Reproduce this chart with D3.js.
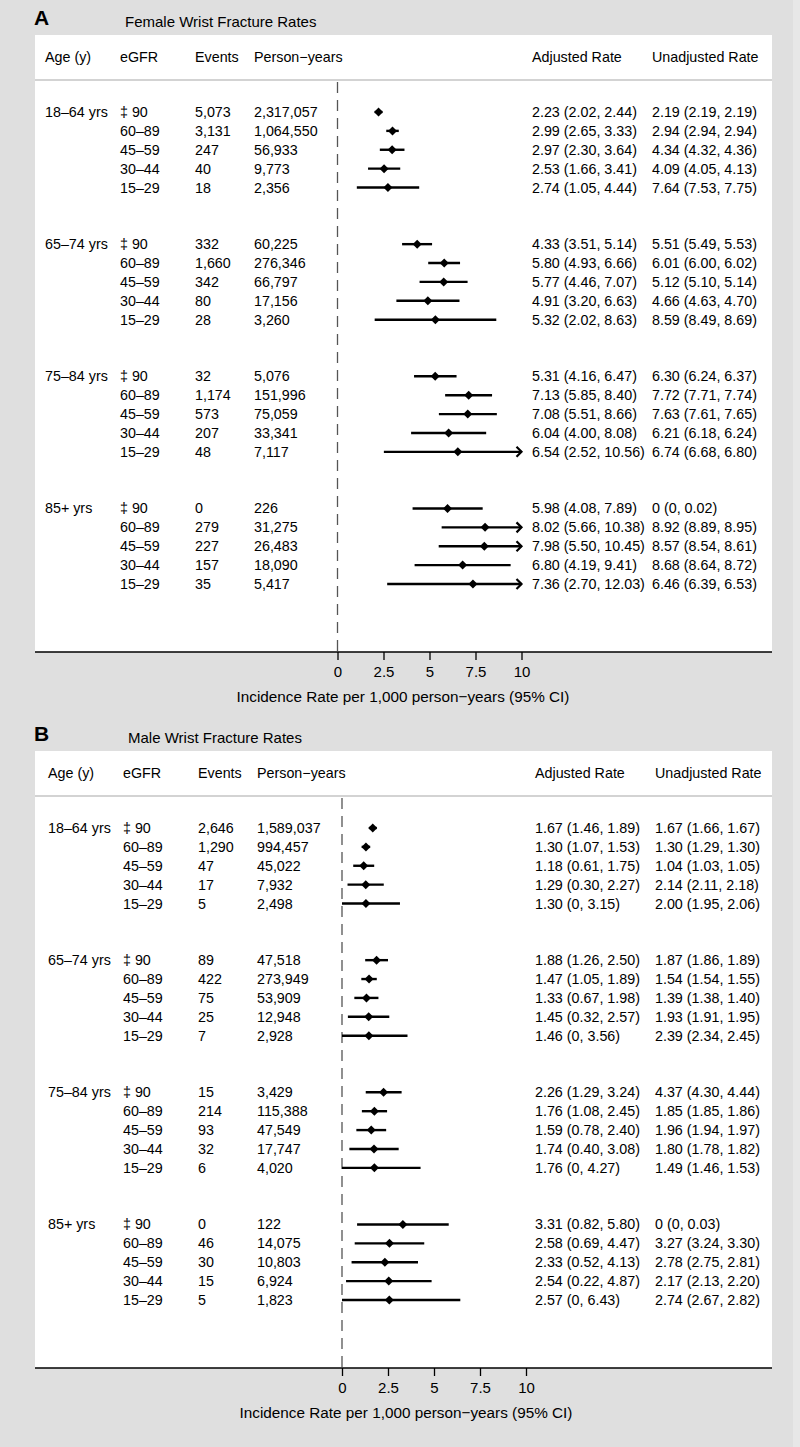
<!DOCTYPE html>
<html>
<head>
<meta charset="utf-8">
<script src="https://cdn.jsdelivr.net/npm/d3@7"></script>
<style>
    body { margin: 0; background: #dfdfdf; }
    svg { display: block; font-family: "Liberation Sans", Arial, sans-serif; }
</style>
</head>
<body>
<svg id="chart" width="800" height="1447"></svg>
<script>
const ageGroups = ["18–64 yrs", "65–74 yrs", "75–84 yrs", "85+ yrs"]
const egfrLevels = ["‡ 90", "60–89", "45–59", "30–44", "15–29"]
const xTicks = [0, 2.5, 5, 7.5, 10]

// female, rows ordered by age group then eGFR
const femaleEvents = [5073, 3131, 247, 40, 18, 332, 1660, 342, 80, 28, 32, 1174, 573, 207, 48, 0, 279, 227, 157, 35]
const femalePersonYears = [2317057, 1064550, 56933, 9773, 2356, 60225, 276346, 66797, 17156, 3260,
    5076, 151996, 75059, 33341, 7117, 226, 31275, 26483, 18090, 5417]
const femaleAdjusted = [
    [2.23, 2.02, 2.44], [2.99, 2.65, 3.33], [2.97, 2.30, 3.64], [2.53, 1.66, 3.41], [2.74, 1.05, 4.44],
    [4.33, 3.51, 5.14], [5.80, 4.93, 6.66], [5.77, 4.46, 7.07], [4.91, 3.20, 6.63], [5.32, 2.02, 8.63],
    [5.31, 4.16, 6.47], [7.13, 5.85, 8.40], [7.08, 5.51, 8.66], [6.04, 4.00, 8.08], [6.54, 2.52, 10.56],
    [5.98, 4.08, 7.89], [8.02, 5.66, 10.38], [7.98, 5.50, 10.45], [6.80, 4.19, 9.41], [7.36, 2.70, 12.03]
]
const femaleUnadjusted = [
    [2.19, 2.19, 2.19], [2.94, 2.94, 2.94], [4.34, 4.32, 4.36], [4.09, 4.05, 4.13], [7.64, 7.53, 7.75],
    [5.51, 5.49, 5.53], [6.01, 6.00, 6.02], [5.12, 5.10, 5.14], [4.66, 4.63, 4.70], [8.59, 8.49, 8.69],
    [6.30, 6.24, 6.37], [7.72, 7.71, 7.74], [7.63, 7.61, 7.65], [6.21, 6.18, 6.24], [6.74, 6.68, 6.80],
    [0, 0, 0.02], [8.92, 8.89, 8.95], [8.57, 8.54, 8.61], [8.68, 8.64, 8.72], [6.46, 6.39, 6.53]
]

// male
const maleEvents = [2646, 1290, 47, 17, 5, 89, 422, 75, 25, 7, 15, 214, 93, 32, 6, 0, 46, 30, 15, 5]
const malePersonYears = [1589037, 994457, 45022, 7932, 2498, 47518, 273949, 53909, 12948, 2928,
    3429, 115388, 47549, 17747, 4020, 122, 14075, 10803, 6924, 1823]
const maleAdjusted = [
    [1.67, 1.46, 1.89], [1.30, 1.07, 1.53], [1.18, 0.61, 1.75], [1.29, 0.30, 2.27], [1.30, 0, 3.15],
    [1.88, 1.26, 2.50], [1.47, 1.05, 1.89], [1.33, 0.67, 1.98], [1.45, 0.32, 2.57], [1.46, 0, 3.56],
    [2.26, 1.29, 3.24], [1.76, 1.08, 2.45], [1.59, 0.78, 2.40], [1.74, 0.40, 3.08], [1.76, 0, 4.27],
    [3.31, 0.82, 5.80], [2.58, 0.69, 4.47], [2.33, 0.52, 4.13], [2.54, 0.22, 4.87], [2.57, 0, 6.43]
]
const maleUnadjusted = [
    [1.67, 1.66, 1.67], [1.30, 1.29, 1.30], [1.04, 1.03, 1.05], [2.14, 2.11, 2.18], [2.00, 1.95, 2.06],
    [1.87, 1.86, 1.89], [1.54, 1.54, 1.55], [1.39, 1.38, 1.40], [1.93, 1.91, 1.95], [2.39, 2.34, 2.45],
    [4.37, 4.30, 4.44], [1.85, 1.85, 1.86], [1.96, 1.94, 1.97], [1.80, 1.78, 1.82], [1.49, 1.46, 1.53],
    [0, 0, 0.03], [3.27, 3.24, 3.30], [2.78, 2.75, 2.81], [2.17, 2.13, 2.20], [2.74, 2.67, 2.82]
]

const svg = d3.select("#chart")
const fmtInt = d3.format(",")

function fmtRate(v) {
    return v === 0 ? "0" : v.toFixed(2)
}

function fmtCI(d) {
    return fmtRate(d[0]) + " (" + fmtRate(d[1]) + ", " + fmtRate(d[2]) + ")"
}

svg.append("rect")
    .attr("width", 800).attr("height", 1447)
    .attr("fill", "#dfdfdf")

svg.append("rect")
    .attr("x", 793).attr("width", 7).attr("height", 1447)
    .attr("fill", "#e7e7e7")


function drawPanel(p) {
    let g = svg.append("g").attr("transform", "translate(0," + p.top + ")"),
        rows = []

    p.events.forEach(function(ev, i) {
        let group = Math.floor(i / 5), level = i % 5
        rows.push({
            group: group, level: level, index: group * 7 + level,
            events: ev, py: p.personYears[i],
            adj: p.adjusted[i], unadj: p.unadjusted[i]
        })
    })

    let x = d3.scaleLinear().domain([0, 10]).range([p.zeroX, p.zeroX + 184]),
        y = d3.scaleLinear().domain([0, 25]).range([77, 549])

    g.append("rect")
        .attr("x", 35).attr("y", 0)
        .attr("width", 737).attr("height", 617)
        .attr("fill", "#fff")

    g.append("text")
        .attr("x", 34).attr("y", -17)
        .attr("dy", "0.35em")
        .style("font-size", "21px").style("font-weight", "bold")
        .text(p.letter)

    g.append("text")
        .attr("x", 125 + p.dx).attr("y", -13)
        .attr("dy", "0.35em")
        .style("font-size", "15px")
        .text(p.title)

    let header = [
        ["Age (y)", 45], ["eGFR", 120], ["Events", 195], ["Person−years", 254],
        ["Adjusted Rate", 532], ["Unadjusted Rate", 652]
    ]

    g.selectAll(".hdr")
        .data(header)
        .join("text")
        .attr("x", d => d[1] + p.dx)
        .attr("y", 22)
        .attr("dy", "0.35em")
        .style("font-size", "14.3px")
        .text(d => d[0])

    g.append("line")
        .attr("x1", 35).attr("x2", 772)
        .attr("y1", 45).attr("y2", 45)
        .attr("stroke", "#c4c4c4").attr("stroke-width", 1.5)

    // reference line at zero
    g.append("line")
        .attr("x1", x(0)).attr("x2", x(0))
        .attr("y1", 47).attr("y2", 617)
        .attr("stroke", "#555").attr("stroke-width", 1.3)
        .attr("stroke-dasharray", "11,7")

    g.selectAll(".age")
        .data(ageGroups)
        .join("text")
        .attr("x", 45 + p.dx)
        .attr("y", (d, i) => y(i * 7))
        .attr("dy", "0.35em")
        .style("font-size", "14.3px")
        .text(d => d)

    let cells = [
        [120, d => egfrLevels[d.level]],
        [195, d => fmtInt(d.events)],
        [254, d => fmtInt(d.py)],
        [532, d => fmtCI(d.adj)],
        [652, d => fmtCI(d.unadj)]
    ]

    cells.forEach(function(c) {
        g.append("g")
            .selectAll("text")
            .data(rows)
            .join("text")
            .attr("x", c[0] + p.dx)
            .attr("y", d => y(d.index))
            .attr("dy", "0.35em")
            .style("font-size", "14.3px")
            .text(c[1])
    })

    // confidence intervals
    g.append("g")
        .selectAll("line")
        .data(rows)
        .join("line")
        .attr("x1", d => x(d.adj[1]))
        .attr("x2", d => x(Math.min(d.adj[2], 10)))
        .attr("y1", d => y(d.index))
        .attr("y2", d => y(d.index))
        .attr("stroke", "#000").attr("stroke-width", 2.4)

    g.append("g")
        .selectAll("path")
        .data(rows.filter(d => d.adj[2] > 10))
        .join("path")
        .attr("d", function(d) {
            let ax = x(10), ay = y(d.index)
            return "M" + (ax - 5) + "," + (ay - 5) + "L" + ax + "," + ay + "L" + (ax - 5) + "," + (ay + 5)
        })
        .attr("fill", "none")
        .attr("stroke", "#000").attr("stroke-width", 2.2)

    g.append("g")
        .selectAll("path")
        .data(rows)
        .join("path")
        .attr("d", function(d) {
            let cx = x(d.adj[0]), cy = y(d.index)
            return "M" + (cx - 4.5) + "," + cy + "L" + cx + "," + (cy - 4.5) +
                "L" + (cx + 4.5) + "," + cy + "L" + cx + "," + (cy + 4.5) + "Z"
        })
        .attr("fill", "#000")

    // bottom axis
    let axis = g.append("g")
        .attr("transform", "translate(0,617)")
        .call(d3.axisBottom(x).tickValues(xTicks).tickSize(8).tickPadding(6)
            .tickFormat(d => String(d)))

    axis.select(".domain").remove()
    axis.selectAll(".tick line").attr("stroke-width", 1.3)
    axis.selectAll(".tick text")
        .style("font-size", "15px")
        .style("font-family", "'Liberation Sans', Arial, sans-serif")
        .attr("fill", "#000")

    g.append("line")
        .attr("x1", 35).attr("x2", 772)
        .attr("y1", 617).attr("y2", 617)
        .attr("stroke", "#000").attr("stroke-width", 1.5)

    g.append("text")
        .attr("x", 403 + p.dx).attr("y", 662)
        .attr("dy", "0.35em")
        .attr("text-anchor", "middle")
        .style("font-size", "15.3px")
        .text("Incidence Rate per 1,000 person−years (95% CI)")
}

drawPanel({
    letter: "A", title: "Female Wrist Fracture Rates",
    top: 35, dx: 0, zeroX: 337.5,
    events: femaleEvents, personYears: femalePersonYears,
    adjusted: femaleAdjusted, unadjusted: femaleUnadjusted
})

drawPanel({
    letter: "B", title: "Male Wrist Fracture Rates",
    top: 751, dx: 3, zeroX: 342,
    events: maleEvents, personYears: malePersonYears,
    adjusted: maleAdjusted, unadjusted: maleUnadjusted
})
</script>
</body>
</html>
